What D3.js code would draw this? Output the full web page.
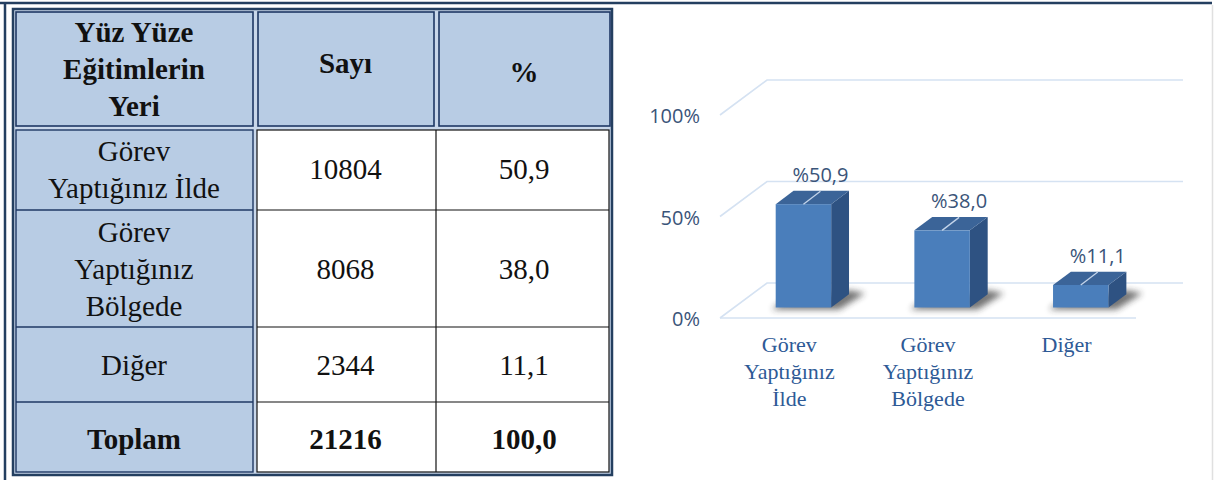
<!DOCTYPE html>
<html>
<head>
<meta charset="utf-8">
<script src="https://cdn.jsdelivr.net/npm/d3@7"></script>
<style>
  html, body { margin: 0; padding: 0; background: #fff; }
  svg { display: block; }
</style>
</head>
<body>
<div id="app"></div>
<script>
// data
const categories = ["Görev Yaptığınız İlde", "Görev Yaptığınız Bölgede", "Diğer"];
const headerLines = [["Yüz Yüze", "Eğitimlerin", "Yeri"], ["Sayı"], ["%"]];
const tableRowLines = [["Görev", "Yaptığınız İlde"], ["Görev", "Yaptığınız", "Bölgede"], ["Diğer"]];
const axisLabelLines = [["Görev", "Yaptığınız", "İlde"], ["Görev", "Yaptığınız", "Bölgede"], ["Diğer"]];
const counts = [10804, 8068, 2344];
const percents = [50.9, 38.0, 11.1];
const totalLabel = "Toplam";
const totalCount = 21216;
const totalPercent = 100.0;
const yTicks = [0, 50, 100];

const W = 1214, H = 480;
const comma = (v) => d3.format(".1f")(v).replace(".", ",");

const svg = d3.select("#app").append("svg")
  .attr("width", W).attr("height", H);

// page frame
svg.append("line").attr("x1", 0).attr("x2", 1212).attr("y1", 3).attr("y2", 3)
  .attr("stroke", "#243f60").attr("stroke-width", 2.5);
svg.append("line").attr("x1", 5).attr("x2", 5).attr("y1", 2).attr("y2", H)
  .attr("stroke", "#243f60").attr("stroke-width", 2.5);
svg.append("line").attr("x1", 1212.5).attr("x2", 1212.5).attr("y1", 5).attr("y2", H)
  .attr("stroke", "#e0e0e0").attr("stroke-width", 1.5);

// ---------- table ----------
const colX = [13, 255, 436, 612];
const rowY = [9, 128, 210, 327, 402, 475];
const blue = "#b8cce4";
const navy = "#1f3864";
const serif = "'Liberation Serif', 'Times New Roman', serif";

const table = svg.append("g");
table.append("rect")
  .attr("x", colX[0]).attr("y", rowY[0])
  .attr("width", colX[3] - colX[0]).attr("height", rowY[5] - rowY[0])
  .attr("fill", "#c9d7ea").attr("stroke", "#243f60").attr("stroke-width", 2.5);

// header cells
table.selectAll(".hcell").data(headerLines).enter().append("rect")
  .attr("x", (d, i) => colX[i] + 3)
  .attr("y", rowY[0] + 3)
  .attr("width", (d, i) => colX[i + 1] - colX[i] - 5)
  .attr("height", rowY[1] - rowY[0] - 5)
  .attr("fill", blue).attr("stroke", navy).attr("stroke-width", 1.6);

// first column body
table.append("rect")
  .attr("x", colX[0] + 3).attr("y", rowY[1] + 2)
  .attr("width", colX[1] - colX[0] - 5).attr("height", rowY[5] - rowY[1] - 5)
  .attr("fill", blue).attr("stroke", navy).attr("stroke-width", 1.4);
// white body
table.append("rect")
  .attr("x", colX[1] + 2).attr("y", rowY[1] + 2)
  .attr("width", colX[3] - colX[1] - 5).attr("height", rowY[5] - rowY[1] - 5)
  .attr("fill", "#fff").attr("stroke", "#111").attr("stroke-width", 1.2);

table.append("line")
  .attr("x1", colX[2]).attr("x2", colX[2])
  .attr("y1", rowY[1] + 2).attr("y2", rowY[5] - 3)
  .attr("stroke", "#111").attr("stroke-width", 1.2);

table.selectAll(".rowline").data(rowY.slice(2, 5)).enter().append("line")
  .attr("x1", colX[0] + 3).attr("x2", colX[1] - 2)
  .attr("y1", (d) => d).attr("y2", (d) => d)
  .attr("stroke", navy).attr("stroke-width", 1.3);
table.selectAll(".rowline2").data(rowY.slice(2, 5)).enter().append("line")
  .attr("x1", colX[1] + 2).attr("x2", colX[3] - 3)
  .attr("y1", (d) => d).attr("y2", (d) => d)
  .attr("stroke", "#111").attr("stroke-width", 1.2);

function cellText(lines, col, row, bold, shift) {
  const cx = (colX[col] + colX[col + 1]) / 2;
  const cy = (rowY[row] + rowY[row + 1]) / 2 + (shift || 0);
  const n = lines.length;
  table.append("g").selectAll("text").data(lines).enter().append("text")
    .attr("x", cx)
    .attr("y", (d, i) => cy + (i - (n - 1) / 2) * 37 + 10)
    .attr("text-anchor", "middle")
    .attr("font-family", serif)
    .attr("font-size", 29)
    .attr("font-weight", bold ? "bold" : "normal")
    .attr("fill", "#111")
    .text((d) => d);
}

cellText(headerLines[0], 0, 0, true);
cellText(headerLines[1], 1, 0, true, -6);
cellText(headerLines[2], 2, 0, true, 3);
tableRowLines.forEach((lines, r) => {
  cellText(lines, 0, r + 1, false);
  cellText([String(counts[r])], 1, r + 1, false);
  cellText([comma(percents[r])], 2, r + 1, false);
});
cellText([totalLabel], 0, 4, true);
cellText([String(totalCount)], 1, 4, true);
cellText([comma(totalPercent)], 2, 4, true);

// ---------- 3D bar chart ----------
const x = d3.scaleBand().domain(categories).range([720, 1136]);
const y = d3.scaleLinear().domain([0, 100]).range([318, 115]);
const DX = 47, DY = -35;          // wall depth
const f0 = 0.3, f1 = 0.68;        // bar depth position
const bw = x.bandwidth() * 0.4;
const labelColor = "#3a5479";
const sans = "'Open Sans', 'Noto Sans', sans-serif";

const chart = svg.append("g");

const defs = svg.append("defs");
defs.append("filter").attr("id", "blur")
  .attr("x", "-50%").attr("y", "-50%").attr("width", "200%").attr("height", "200%")
  .append("feGaussianBlur").attr("stdDeviation", 3);

const grid = d3.line();
chart.selectAll(".grid").data(yTicks).enter().append("path")
  .attr("d", (t) => grid([
    [x.range()[0], y(t)],
    [x.range()[0] + DX, y(t) + DY],
    [x.range()[1] + DX, y(t) + DY]
  ]))
  .attr("fill", "none").attr("stroke", "#d5e2f2").attr("stroke-width", 1.6);
chart.append("line")
  .attr("x1", x.range()[0]).attr("x2", x.range()[1])
  .attr("y1", y(0)).attr("y2", y(0))
  .attr("stroke", "#d5e2f2").attr("stroke-width", 1.6);

chart.selectAll(".tick").data(yTicks).enter().append("text")
  .attr("x", 700).attr("y", (t) => y(t) + 8)
  .attr("text-anchor", "end")
  .attr("font-family", sans).attr("font-size", 20)
  .attr("fill", labelColor)
  .text((t) => t + "%");

const bars = categories.map((c, i) => {
  const cx = x(c) + x.bandwidth() / 2 + DX * f0;
  const L = cx - bw / 2, R = cx + bw / 2;
  const B = y(0) + DY * f0;
  const T = y(percents[i]) + DY * f0;
  const ddx = DX * (f1 - f0), ddy = DY * (f1 - f0);
  return { c, v: percents[i], cx, L, R, B, T, ddx, ddy };
});

const poly = (pts) => "M" + pts.map((p) => p.join(",")).join("L") + "Z";

// soft shadow on the floor
chart.selectAll(".shadow").data(bars).enter().append("path")
  .attr("d", (b) => poly([
    [b.L - 4, b.B + 2], [b.R + 8, b.B + 2],
    [b.R + b.ddx + 16, b.B + b.ddy - 1], [b.R + b.ddx, b.B + b.ddy - 4],
    [b.L + 4, b.B - 4]
  ]))
  .attr("fill", "#2a2a2a").attr("opacity", 0.65)
  .attr("filter", "url(#blur)");

chart.selectAll(".side").data(bars).enter().append("path")
  .attr("d", (b) => poly([
    [b.R, b.T], [b.R + b.ddx, b.T + b.ddy],
    [b.R + b.ddx, b.B + b.ddy], [b.R, b.B]
  ]))
  .attr("fill", "#2e5282");

chart.selectAll(".top").data(bars).enter().append("path")
  .attr("d", (b) => poly([
    [b.L, b.T], [b.R, b.T],
    [b.R + b.ddx, b.T + b.ddy], [b.L + b.ddx, b.T + b.ddy]
  ]))
  .attr("fill", "#3b6498");

chart.selectAll(".front").data(bars).enter().append("rect")
  .attr("x", (b) => b.L).attr("y", (b) => b.T)
  .attr("width", bw).attr("height", (b) => b.B - b.T)
  .attr("fill", "#4a7ebb");

// leader lines and value labels
chart.selectAll(".leader").data(bars).enter().append("line")
  .attr("x1", (b) => b.cx).attr("y1", (b) => b.T)
  .attr("x2", (b) => b.cx + 17).attr("y2", (b) => b.T - 13)
  .attr("stroke", "#c3d4ea").attr("stroke-width", 1.3);

chart.selectAll(".vlabel").data(bars).enter().append("text")
  .attr("x", (b) => b.cx + 17).attr("y", (b) => b.T - 22)
  .attr("text-anchor", "middle")
  .attr("font-family", sans).attr("font-size", 20)
  .attr("fill", labelColor)
  .text((b) => "%" + comma(b.v));

// category labels
categories.forEach((c, i) => {
  chart.append("g").selectAll("text").data(axisLabelLines[i]).enter().append("text")
    .attr("x", x(c) + x.bandwidth() / 2)
    .attr("y", (d, j) => 352 + j * 27)
    .attr("text-anchor", "middle")
    .attr("font-family", serif).attr("font-size", 22)
    .attr("fill", "#2e5a96")
    .text((d) => d);
});
</script>
</body>
</html>
